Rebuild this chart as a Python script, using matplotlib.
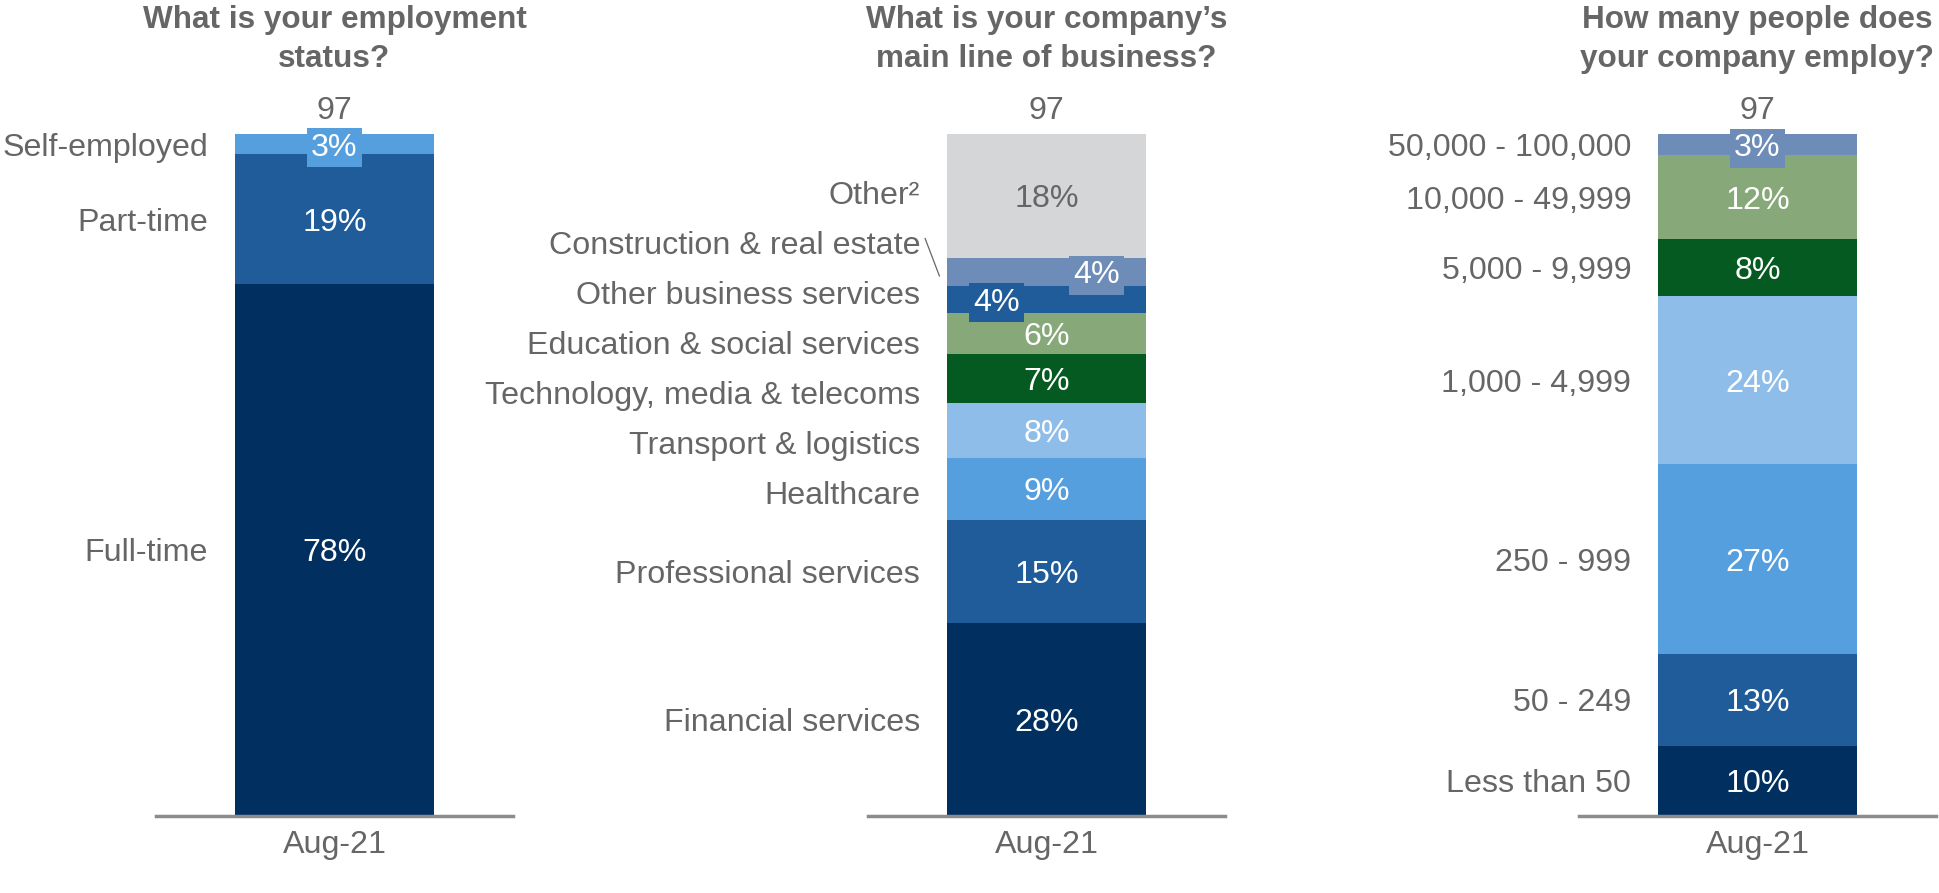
import matplotlib.pyplot as plt
import numpy as np

plt.rcParams['font.family'] = ['Liberation Sans', 'DejaVu Sans']

period = "Aug-21"
titles = ["What is your employment\nstatus?",
          "What is your company\u2019s\nmain line of business?",
          "How many people does\nyour company employ?"]
respondents = [97, 97, 97]

emp_cats = ["Full-time", "Part-time", "Self-employed"]
emp_vals = [78, 19, 3]

biz_cats = ["Financial services", "Professional services", "Healthcare",
            "Transport & logistics", "Technology, media & telecoms",
            "Education & social services", "Other business services",
            "Construction & real estate", "Other\u00b2"]
biz_vals = [28, 15, 9, 8, 7, 6, 4, 4, 18]

size_cats = ["Less than 50", "50 - 249", "250 - 999", "1,000 - 4,999",
             "5,000 - 9,999", "10,000 - 49,999", "50,000 - 100,000"]
size_vals = [10, 13, 27, 24, 8, 12, 3]

# palette
NAVY = "#002F60"
MID = "#1F5C99"
SKY = "#559FDF"
PALE = "#8FBDEA"
FOREST = "#055A22"
SAGE = "#87A878"
SLATE = "#6E8CB8"
LIGHTGREY = "#D5D6D8"
TXT = "#666666"

emp_colors = [NAVY, MID, SKY]
biz_colors = [NAVY, MID, SKY, PALE, FOREST, SAGE, MID, SLATE, LIGHTGREY]
size_colors = [NAVY, MID, SKY, PALE, FOREST, SAGE, SLATE]

panels = [(emp_cats, emp_vals, emp_colors),
          (biz_cats, biz_vals, biz_colors),
          (size_cats, size_vals, size_colors)]

leaders = {"Construction & real estate"}

W, H = 1939, 893
lefts = [156, 868, 1579]
ax_w, ax_h, ax_bottom = 357, 682, 77
bar_w = 0.56
FS = 23.2
TITLE_FS = 22.7


def spread(ys, gap, iters=500):
    ys = list(ys)
    for _ in range(iters):
        moved = False
        for i in range(len(ys) - 1):
            d = ys[i + 1] - ys[i]
            if d < gap - 1e-6:
                push = (gap - d) / 2
                ys[i] -= push
                ys[i + 1] += push
                moved = True
        if not moved:
            break
    return ys


fig = plt.figure(figsize=(W / 100, H / 100), dpi=100)

for k, (cats, vals, colors) in enumerate(panels):
    ax = fig.add_axes([lefts[k] / W, ax_bottom / H, ax_w / W, ax_h / H])
    vals = np.array(vals, dtype=float)
    total = vals.sum()
    base = np.concatenate([[0], np.cumsum(vals)[:-1]])
    centers = base + vals / 2

    ax.bar([0] * len(vals), vals, bottom=base, width=bar_w, color=colors,
           linewidth=0, zorder=1)
    ax.set_xlim(-0.5, 0.5)
    ax.set_ylim(0, total)

    for s in ['left', 'right', 'top']:
        ax.spines[s].set_visible(False)
    ax.spines['bottom'].set_color('#8C8C8C')
    ax.spines['bottom'].set_linewidth(2.5)
    ax.set_yticks([])
    ax.set_xticks([0])
    ax.set_xticklabels([period])
    ax.tick_params(axis='x', length=0, pad=10, labelsize=FS, labelcolor=TXT)

    # percentages inside the segments
    prev_small = False
    for i, (v, c, col) in enumerate(zip(vals, centers, colors)):
        small = v < 5
        dx = 0
        if small and i + 1 < len(vals) and vals[i + 1] < 5:
            dx = -0.14
        elif small and prev_small:
            dx = 0.14
        prev_small = small
        txt_col = TXT if col == LIGHTGREY else 'white'
        box = dict(boxstyle='square,pad=0.14', fc=col, ec='none') if small else None
        ax.annotate(f"{int(v)}%", xy=(dx, c), xytext=(0, -2.5),
                    textcoords='offset points', ha='center', va='center',
                    fontsize=FS, color=txt_col, bbox=box, zorder=3)

    # respondent count above the bar
    ax.annotate(str(respondents[k]), xy=(0, total), xytext=(0, 6),
                textcoords='offset points', ha='center', va='bottom',
                fontsize=FS, color=TXT, annotation_clip=False)

    # category labels, spread apart so they do not collide
    gap = 50 / ax_h * total
    label_y = spread(centers, gap)
    for name, ly, c in zip(cats, label_y, centers):
        ax.annotate(name, xy=(-bar_w / 2, ly), xytext=(-19, -2.5),
                    textcoords='offset points', ha='right', va='center',
                    fontsize=FS, color=TXT, annotation_clip=False)
        if name in leaders:
            ax.plot([-bar_w / 2 - 0.06, -bar_w / 2 - 0.02],
                    [ly + 0.6, c - 0.6], color=TXT, lw=0.9, clip_on=False)

    fig.text((lefts[k] + ax_w / 2) / W, 1 - 5 / H, titles[k], ha='center',
             va='top', fontsize=TITLE_FS, fontweight='bold', color=TXT,
             linespacing=1.4)

fig.savefig("out.png", dpi=100)
